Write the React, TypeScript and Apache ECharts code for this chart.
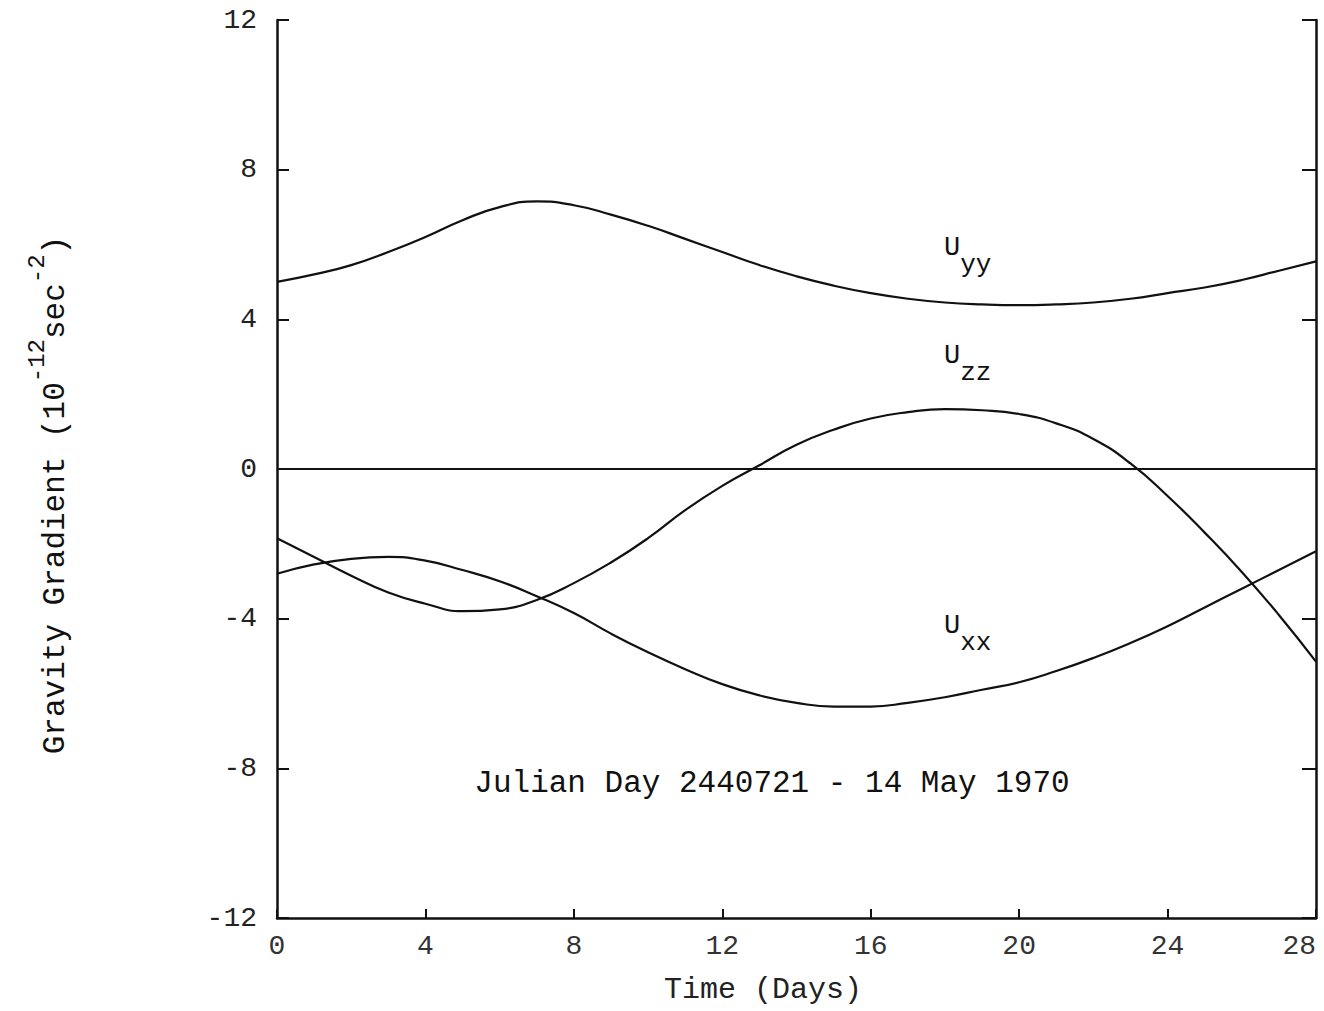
import React, { useEffect, useRef } from "react";
import * as echarts from "echarts";

const days = [0, 1, 2, 3, 4, 5, 6, 7, 8, 9, 10, 11, 12, 13, 14, 15, 16, 17, 18, 19, 20, 21, 22, 23, 24, 25, 26, 27, 28];
const uyy = [5.0, 5.2, 5.45, 5.8, 6.2, 6.65, 7.0, 7.15, 7.05, 6.8, 6.5, 6.15, 5.8, 5.45, 5.15, 4.9, 4.7, 4.55, 4.45, 4.4, 4.38, 4.4, 4.45, 4.55, 4.7, 4.85, 5.05, 5.3, 5.55];
const uzz = [-1.85, -2.35, -2.85, -3.3, -3.6, -3.8, -3.75, -3.5, -3.05, -2.5, -1.85, -1.1, -0.45, 0.1, 0.65, 1.05, 1.35, 1.52, 1.6, 1.57, 1.47, 1.22, 0.8, 0.15, -0.72, -1.7, -2.75, -3.9, -5.15];
const uxx = [-2.8, -2.55, -2.4, -2.35, -2.45, -2.7, -3.0, -3.4, -3.85, -4.4, -4.9, -5.35, -5.75, -6.05, -6.25, -6.35, -6.35, -6.25, -6.1, -5.9, -5.7, -5.4, -5.05, -4.65, -4.2, -3.7, -3.2, -2.7, -2.2];
const zeroLine = [0, 0];
const zeroDays = [0, 28];
const xTicks = [0, 4, 8, 12, 16, 20, 24, 28];

const FONT = "Liberation Mono";
const INK = "#111";

function pairs(xs: number[], ys: number[]) {
  return xs.map((x, i) => [x, ys[i]]);
}

export default function App() {
  const ref = useRef<HTMLDivElement>(null);
  useEffect(() => {
    if (!ref.current) return;
    const chart = echarts.init(ref.current, undefined, { renderer: "svg" });
    const lineSeries = (name: string, xs: number[], ys: number[], smooth: boolean) => ({
      name,
      type: "line",
      data: pairs(xs, ys),
      smooth,
      symbol: "none",
      lineStyle: { color: INK, width: 2.2 },
      z: 3,
    });
    const subLabel = (x: number, y: number, main: string, sub: string) => ({
      type: "text",
      x,
      y,
      style: {
        text: `{u|${main}}{s|${sub}}`,
        fill: INK,
        rich: {
          u: { fontFamily: FONT, fontSize: 27, fill: INK, lineHeight: 44, verticalAlign: "top" },
          s: { fontFamily: FONT, fontSize: 26, fill: INK, lineHeight: 44, verticalAlign: "bottom" },
        },
      },
    });
    chart.setOption({
      animation: false,
      backgroundColor: "#fff",
      grid: { left: 277, right: 8, top: 20, bottom: 93, outerBoundsMode: "none", containLabel: false },
      xAxis: {
        type: "value",
        min: 0,
        max: 28,
        interval: 4,
        axisLine: { show: true, onZero: false, lineStyle: { color: INK, width: 2.5 } },
        axisTick: { show: true, inside: true, length: 9, lineStyle: { color: INK, width: 2 } },
        axisLabel: {
          fontFamily: FONT,
          fontSize: 28,
          color: "#333",
          margin: 14,
          customValues: xTicks,
          alignMaxLabel: "right",
        },
        splitLine: { show: false },
      },
      yAxis: [
        {
          type: "value",
          min: -12,
          max: 12,
          interval: 4,
          position: "left",
          axisLine: { show: true, lineStyle: { color: INK, width: 2.5 } },
          axisTick: { show: true, inside: true, length: 12, lineStyle: { color: INK, width: 2 } },
          axisLabel: { fontFamily: FONT, fontSize: 28, color: "#222", margin: 20 },
          splitLine: { show: false },
        },
        {
          type: "value",
          min: -12,
          max: 12,
          interval: 4,
          position: "right",
          axisLine: { show: true, lineStyle: { color: INK, width: 2.5 } },
          axisTick: { show: true, inside: true, length: 14, lineStyle: { color: INK, width: 2 } },
          axisLabel: { show: false },
          splitLine: { show: false },
        },
      ],
      series: [
        lineSeries("zero", zeroDays, zeroLine, false),
        lineSeries("Uyy", days, uyy, true),
        lineSeries("Uzz", days, uzz, true),
        lineSeries("Uxx", days, uxx, true),
      ],
      graphic: [
        subLabel(944, 234, "U", "yy"),
        subLabel(944, 342, "U", "zz"),
        subLabel(944, 612, "U", "xx"),
        {
          type: "text",
          x: 772,
          y: 783,
          style: {
            text: "Julian Day 2440721 - 14 May 1970",
            fontFamily: FONT,
            fontSize: 31,
            fill: INK,
            align: "center",
            verticalAlign: "middle",
          },
        },
        {
          type: "text",
          x: 763,
          y: 990,
          style: {
            text: "Time (Days)",
            fontFamily: FONT,
            fontSize: 30,
            fill: "#222",
            align: "center",
            verticalAlign: "middle",
          },
        },
        {
          type: "text",
          x: 48,
          y: 495,
          rotation: Math.PI / 2,
          style: {
            text: "{n|Gravity Gradient (10}{s|-12}{n|sec}{s|-2}{n|)}",
            align: "center",
            verticalAlign: "middle",
            fill: INK,
            rich: {
              n: { fontFamily: FONT, fontSize: 31, fill: INK, lineHeight: 46, verticalAlign: "bottom" },
              s: { fontFamily: FONT, fontSize: 24, fill: INK, lineHeight: 46, verticalAlign: "top" },
            },
          },
        },
      ],
    });
    return () => chart.dispose();
  }, []);
  return (
    <div
      ref={ref}
      style={{ position: "absolute", left: 0, top: 0, width: 1324, height: 1011 }}
    />
  );
}
